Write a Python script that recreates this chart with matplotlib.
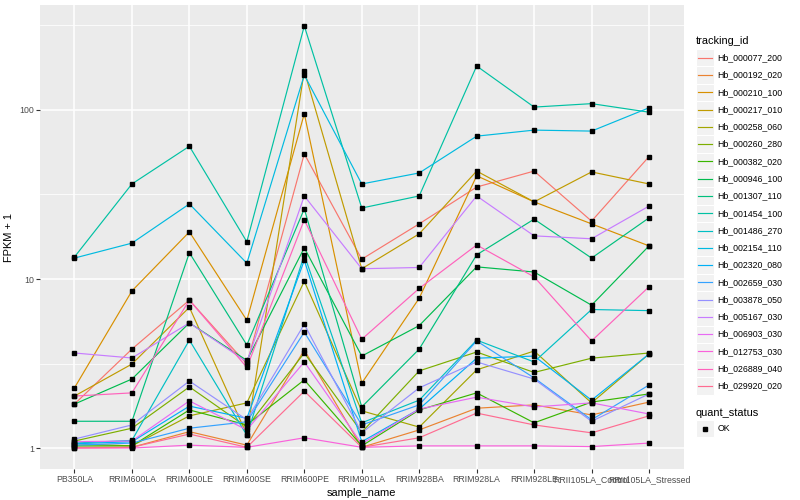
import matplotlib
matplotlib.use("Agg")
import matplotlib.pyplot as plt
from matplotlib.patches import Rectangle
from matplotlib.lines import Line2D

plt.rcParams['font.family'] = ['Liberation Sans', 'DejaVu Sans']

samples = ["PB350LA", "RRIM600LA", "RRIM600LE", "RRIM600SE", "RRIM600PE", "RRIM901LA",
           "RRIM928BA", "RRIM928LA", "RRIM928LE", "RRII105LA_Control", "RRII105LA_Stressed"]

tracking_ids = ["Hb_000077_200", "Hb_000192_020", "Hb_000210_100", "Hb_000217_010",
                "Hb_000258_060", "Hb_000260_280", "Hb_000382_020", "Hb_000946_100",
                "Hb_001307_110", "Hb_001454_100", "Hb_001486_270", "Hb_002154_110",
                "Hb_002320_080", "Hb_002659_030", "Hb_003878_050", "Hb_005167_030",
                "Hb_006903_030", "Hb_012753_030", "Hb_026889_040", "Hb_029920_020"]

colors = ["#F8766D", "#EA8331", "#D89000", "#C09B00", "#A3A500", "#7CAE00", "#39B600",
          "#00BB4E", "#00BF7D", "#00C1A3", "#00BFC4", "#00BAE0", "#00B0F6", "#35A2FF",
          "#9590FF", "#C77CFF", "#E76BF3", "#FA62DB", "#FF62BC", "#FF6C91"]

# FPKM + 1 values, one list per tracking_id, in sample order
hb_000077_200 = [1.82, 3.85, 7.5, 3.14, 55, 13.1, 21.2, 35, 43.5, 22, 53]
hb_000192_020 = [1.01, 1.01, 1.25, 1.04, 3.8, 1.01, 1.28, 1.72, 1.8, 1.57, 1.87]
hb_000210_100 = [2.27, 8.5, 19, 5.7, 95, 2.42, 7.7, 40.8, 28.6, 21.2, 15.7]
hb_000217_010 = [2.03, 3.14, 6.8, 1.2, 170, 11.5, 18.5, 43.5, 28.6, 43, 36.5]
hb_000258_060 = [1.06, 1.03, 1.55, 1.85, 9.7, 1.66, 1.33, 2.9, 3.75, 1.85, 3.6]
hb_000260_280 = [1.1, 1.31, 2.3, 1.33, 3.65, 1.24, 2.86, 3.7, 2.8, 3.4, 3.65]
hb_000382_020 = [1.03, 1.03, 1.68, 1.37, 2.53, 1.03, 1.68, 2.12, 1.41, 1.87, 2.09]
hb_000946_100 = [1.82, 2.56, 5.5, 3.3, 15.3, 3.5, 5.3, 11.8, 11.0, 7.0, 15.7]
hb_001307_110 = [1.44, 1.44, 14.3, 4.07, 26, 1.75, 3.85, 13.9, 22.6, 13.3, 23]
hb_001454_100 = [13.5, 36.5, 61, 16.6, 314, 26.3, 31, 182, 104, 109, 97]
hb_001486_270 = [1.07, 1.11, 4.35, 1.19, 13.9, 1.41, 1.92, 4.35, 3.23, 6.6, 6.5]
hb_002154_110 = [13.3, 16.3, 27.8, 12.4, 161, 36.5, 42.4, 70, 76, 75, 103]
hb_002320_080 = [1.06, 1.09, 1.77, 1.5, 12.9, 1.09, 1.7, 3.4, 3.5, 1.92, 3.6]
hb_002659_030 = [1.04, 1.07, 1.31, 1.43, 4.85, 1.37, 1.8, 4.3, 2.6, 1.47, 2.36]
hb_003878_050 = [1.13, 1.37, 2.49, 1.47, 5.4, 1.23, 2.27, 3.23, 2.56, 1.44, 2.09]
hb_005167_030 = [3.65, 3.41, 5.5, 3.23, 31, 11.5, 11.7, 31, 18, 17.3, 27]
hb_006903_030 = [1.09, 1.1, 1.9, 1.28, 3.23, 1.06, 1.7, 2.0, 1.75, 1.85, 1.59]
hb_012753_030 = [1.0, 1.0, 1.04, 1.01, 1.15, 1.01, 1.03, 1.03, 1.03, 1.02, 1.07]
hb_026889_040 = [2.03, 2.12, 7.5, 3.0, 22.4, 4.4, 8.8, 15.9, 10.3, 4.3, 9.0]
hb_029920_020 = [1.0, 1.01, 1.21, 1.01, 2.17, 1.01, 1.15, 1.61, 1.37, 1.23, 1.55]

series = [hb_000077_200, hb_000192_020, hb_000210_100, hb_000217_010, hb_000258_060,
          hb_000260_280, hb_000382_020, hb_000946_100, hb_001307_110, hb_001454_100,
          hb_001486_270, hb_002154_110, hb_002320_080, hb_002659_030, hb_003878_050,
          hb_005167_030, hb_006903_030, hb_012753_030, hb_026889_040, hb_029920_020]

y_ticks = [1, 10, 100]
y_tick_labels = ["1", "10", "100"]
y_minor = [10 ** 0.5, 10 ** 1.5, 10 ** 2.5]

W, H = 800, 500
fig = plt.figure(figsize=(8, 5), dpi=100)
fig.patch.set_facecolor("white")

pl, pr, pt, pb = 40, 683.5, 5, 469
ax = fig.add_axes([pl / W, 1 - pb / H, (pr - pl) / W, (pb - pt) / H])
ax.set_facecolor("#EBEBEB")
for s in ax.spines.values():
    s.set_visible(False)

ax.set_yscale("log")
ax.set_ylim(10 ** -0.124, 10 ** 2.621)
ax.set_xlim(-0.6, len(samples) - 1 + 0.6)

for m in y_minor:
    ax.axhline(m, color="white", lw=0.55, zorder=0)
for t in y_ticks:
    ax.axhline(t, color="white", lw=1.1, zorder=0)
for i in range(len(samples)):
    ax.axvline(i, color="white", lw=1.1, zorder=0)

xs = list(range(len(samples)))
for vals, c in zip(series, colors):
    ax.plot(xs, vals, color=c, lw=0.85, zorder=2, solid_capstyle="butt")
for vals in series:
    ax.plot(xs, vals, linestyle="none", marker="s", markersize=2.4,
            color="black", zorder=3)

ax.set_yticks(y_ticks)
ax.set_yticklabels(y_tick_labels)
ax.yaxis.set_minor_locator(matplotlib.ticker.NullLocator())
ax.set_xticks(xs)
ax.set_xticklabels(samples)
ax.tick_params(axis="both", which="major", length=2.75, width=0.8, color="#333333",
               labelsize=6.3, labelcolor="#4D4D4D", pad=1.6)

ax.set_xlabel("sample_name", fontsize=7.9, labelpad=2.5)
ax.set_ylabel("FPKM + 1", fontsize=7.9, labelpad=4)


def fx(px):
    return px / W


def fy(py):
    return 1 - py / H


# tracking_id legend
fig.text(fx(695.5), fy(40.7), "tracking_id", fontsize=7.9, va="center", ha="left")
step = 17.28
y0 = 57.7
for i, (tid, c) in enumerate(zip(tracking_ids, colors)):
    yc = y0 + i * step
    fig.patches.append(Rectangle((fx(696.3), fy(yc + step / 2)), 17.28 / W, step / H,
                                 transform=fig.transFigure, facecolor="#F2F2F2",
                                 edgecolor="white", lw=0.8))
    fig.lines.append(Line2D([fx(698), fx(711.8)], [fy(yc), fy(yc)],
                            transform=fig.transFigure, color=c, lw=0.85))
    fig.text(fx(717.5), fy(yc), tid, fontsize=6.3, va="center", ha="left")

# quant_status legend
fig.text(fx(695.5), fy(412.7), "quant_status", fontsize=7.9, va="center", ha="left")
yc = 428.5
fig.patches.append(Rectangle((fx(696.3), fy(yc + step / 2)), 17.28 / W, step / H,
                             transform=fig.transFigure, facecolor="#F2F2F2",
                             edgecolor="white", lw=0.8))
fig.lines.append(Line2D([fx(705)], [fy(yc)], transform=fig.transFigure,
                        marker="s", markersize=2.4, color="black", linestyle="none"))
fig.text(fx(717.5), fy(yc), "OK", fontsize=6.3, va="center", ha="left")

fig.savefig("out.png", dpi=100)
